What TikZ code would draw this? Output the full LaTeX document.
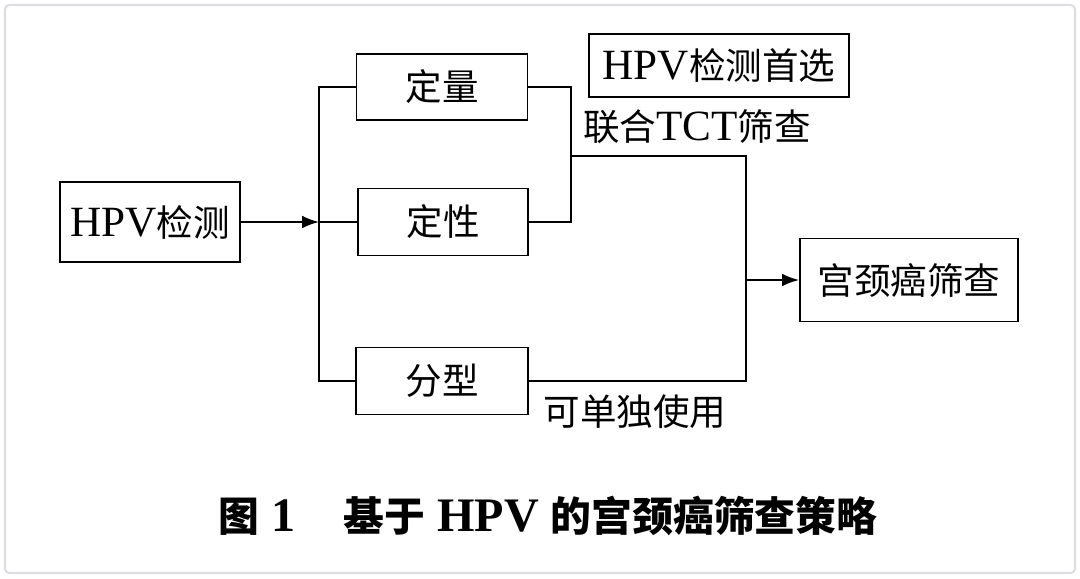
\documentclass[tikz,border=0pt]{standalone}
\usepackage{fontspec}
\setmainfont{Liberation Serif}[Scale=1.18]
\newfontfamily\cjk{Noto Sans CJK SC}
\newcommand{\zh}[1]{{\cjk #1}}
\usetikzlibrary{arrows.meta, positioning}

\begin{document}
\begin{tikzpicture}[x=0.025cm, y=-0.025cm,
  font=\fontsize{26}{30}\selectfont,
  box/.style={draw, rectangle, line width=1.3pt, inner sep=0pt},
  link/.style={line width=1.3pt},
  arr/.style={link, -{Latex[length=12pt,width=9pt]}}]
\useasboundingbox (0,0) rectangle (1080,579);
% marco
\draw[line width=1.5pt, draw=blue!8!gray!25, rounded corners=3pt] (5,5) rectangle (1075,573);

% Nodos principales
\node[box, minimum width=4.5cm, minimum height=2cm] (test) at (150,222) {HPV\zh{检测}};
\node[box, minimum width=4.275cm, minimum height=1.65cm] (quant) at (442,87) {\zh{定量}};
\node[box, minimum width=4.25cm, minimum height=1.675cm] (qual) at (443,222) {\zh{定性}};
\node[box, minimum width=4.3cm, minimum height=1.675cm] (type) at (442,381) {\zh{分型}};
\node[box, minimum width=5.45cm, minimum height=2.075cm] (screen) at (909,280) {\zh{宫颈癌筛查}};
\node[box, minimum width=6.5cm, minimum height=1.575cm] (first) at (719,65.5) {HPV\zh{检测首选}};

% Etiquetas
\node (combo) at (697,127) {\zh{联合}TCT\zh{筛查}};
\node (alone) at (635,412) {\zh{可单独使用}};

% Puntos de union
\coordinate (split) at (319,222);
\coordinate (join1) at (571,156);
\coordinate (join2) at (746,280);

% Flechas
\draw[arr] (test) -- (split);
\draw[link] (quant.west) -| (split) |- (type.west);
\draw[link] (split) -- (qual.west);
\draw[link] (quant.east) -| (join1) |- (qual.east);
\draw[link] (join1) -| (join2) |- (type.east);
\draw[arr] (join2) -- (screen.west);

% Titulo
\node[font=\fontsize{29}{33}\selectfont\bfseries] (title) at (548,516) {\zh{图}~1\quad\zh{基于}~HPV~\zh{的宫颈癌筛查策略}};
\end{tikzpicture}
\end{document}
